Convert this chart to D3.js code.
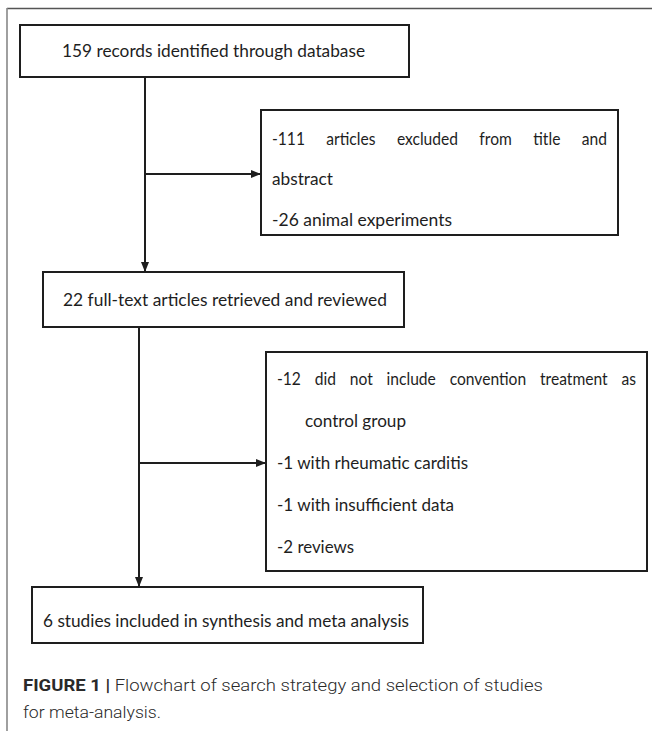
<!DOCTYPE html>
<html>
<head>
<meta charset="utf-8">
<script src="https://cdn.jsdelivr.net/npm/d3@7/dist/d3.min.js"></script>
<style>
html,body{margin:0;padding:0;background:#fff;}
svg{display:block;}
</style>
</head>
<body>
<svg id="c" width="652" height="731"></svg>
<script>
// ---- data ----
const mainSteps = [
  "159 records identified through database",
  "22 full-text articles retrieved and reviewed",
  "6 studies included in synthesis and meta analysis"
];
const exclusionA = [
  "-111 articles excluded from title and",
  "abstract",
  "-26 animal experiments"
];
const exclusionB = [
  "-12 did not include convention treatment as",
  "control group",
  "-1 with rheumatic carditis",
  "-1 with insufficient data",
  "-2 reviews"
];
const captionBold = "FIGURE 1 |";
const captionRest = [" Flowchart of search strategy and selection of studies", "for meta-analysis."];

// ---- layout ----
const svg = d3.select("#c");
const ink = "#1e1e1e";
const font = "Lato, 'Open Sans', sans-serif";
const fs = 16.6;

svg.append("defs").append("marker")
  .attr("id","ah").attr("viewBox","0 0 10 10").attr("refX",10).attr("refY",5)
  .attr("markerWidth",5).attr("markerHeight",5).attr("markerUnits","strokeWidth")
  .attr("orient","auto")
  .append("path").attr("d","M0,1 L10,5 L0,9 Z").attr("fill",ink);

// outer frame
svg.append("line").attr("x1",7).attr("y1",8.5).attr("x2",652).attr("y2",8.5)
  .attr("stroke","#555").attr("stroke-width",1.4);
svg.append("line").attr("x1",7).attr("y1",8).attr("x2",7).attr("y2",731)
  .attr("stroke","#888").attr("stroke-width",1.6);

const boxes = [
  {x:20, y:25, w:389, h:52},
  {x:43, y:272, w:361, h:55},
  {x:32, y:587, w:391, h:56}
];
const boxA = {x:261, y:110, w:357, h:125};
const boxB = {x:266, y:352, w:381, h:219};

function rect(b){
  svg.append("rect").attr("x",b.x).attr("y",b.y).attr("width",b.w).attr("height",b.h)
    .attr("fill","#fff").attr("stroke",ink).attr("stroke-width",2);
}
boxes.forEach(rect); rect(boxA); rect(boxB);

function textLine(str, x, y, target){
  const t = svg.append("text").attr("x",x).attr("y",y)
    .attr("font-family",font).attr("font-size",fs).attr("fill",ink).text(str);
  if (target) t.attr("textLength",target).attr("lengthAdjust","spacingAndGlyphs");
  return t;
}
function justified(str, x, y, right){
  const words = str.split(" ");
  const nodes = words.map(w => svg.append("text").attr("y",y)
    .attr("font-family",font).attr("font-size",fs).attr("fill",ink).text(w));
  const widths = nodes.map(n => n.node().getComputedTextLength() * 0.94);
  nodes.forEach((n,i)=> n.attr("textLength",widths[i]).attr("lengthAdjust","spacingAndGlyphs"));
  const total = d3.sum(widths);
  const gap = (right - x - total) / (words.length - 1);
  let cx = x;
  nodes.forEach((n,i) => { n.attr("x",cx); cx += widths[i] + gap; });
}

// main step texts
const mainPos = [
  {x:62, y:57, w:303},
  {x:63, y:306, w:324},
  {x:43, y:627, w:366}
];
mainSteps.forEach((s,i)=> textLine(s, mainPos[i].x, mainPos[i].y, mainPos[i].w));

// exclusion A
justified(exclusionA[0], 272, 145, 607);
textLine(exclusionA[1], 272, 185, 61);
textLine(exclusionA[2], 272, 226, 180);

// exclusion B
justified(exclusionB[0], 277, 385, 636);
textLine(exclusionB[1], 305, 427, 101);
textLine(exclusionB[2], 277, 469, 191);
textLine(exclusionB[3], 277, 511, 177);
textLine(exclusionB[4], 277, 553, 77);

// connectors
function arrow(x1,y1,x2,y2){
  svg.append("line").attr("x1",x1).attr("y1",y1).attr("x2",x2).attr("y2",y2)
    .attr("stroke",ink).attr("stroke-width",2).attr("marker-end","url(#ah)");
}
arrow(145, 77, 145, 272);
arrow(145, 174, 261, 174);
arrow(139, 327, 139, 587);
arrow(139, 463, 266, 463);

// caption
const capFont = "Roboto, 'Liberation Sans', sans-serif";
const cap = svg.append("text").attr("x",23).attr("y",691)
  .attr("font-family",capFont).attr("font-size",17).attr("fill","#2a2a2a")
  .attr("textLength",520).attr("lengthAdjust","spacingAndGlyphs");
cap.append("tspan").attr("font-weight","bold").text(captionBold);
cap.append("tspan").attr("font-weight",300).text(captionRest[0]);
svg.append("text").attr("x",23).attr("y",718)
  .attr("font-family",capFont).attr("font-size",17).attr("font-weight",300)
  .attr("fill","#2a2a2a").attr("textLength",138).attr("lengthAdjust","spacingAndGlyphs")
  .text(captionRest[1]);
</script>
</body>
</html>
